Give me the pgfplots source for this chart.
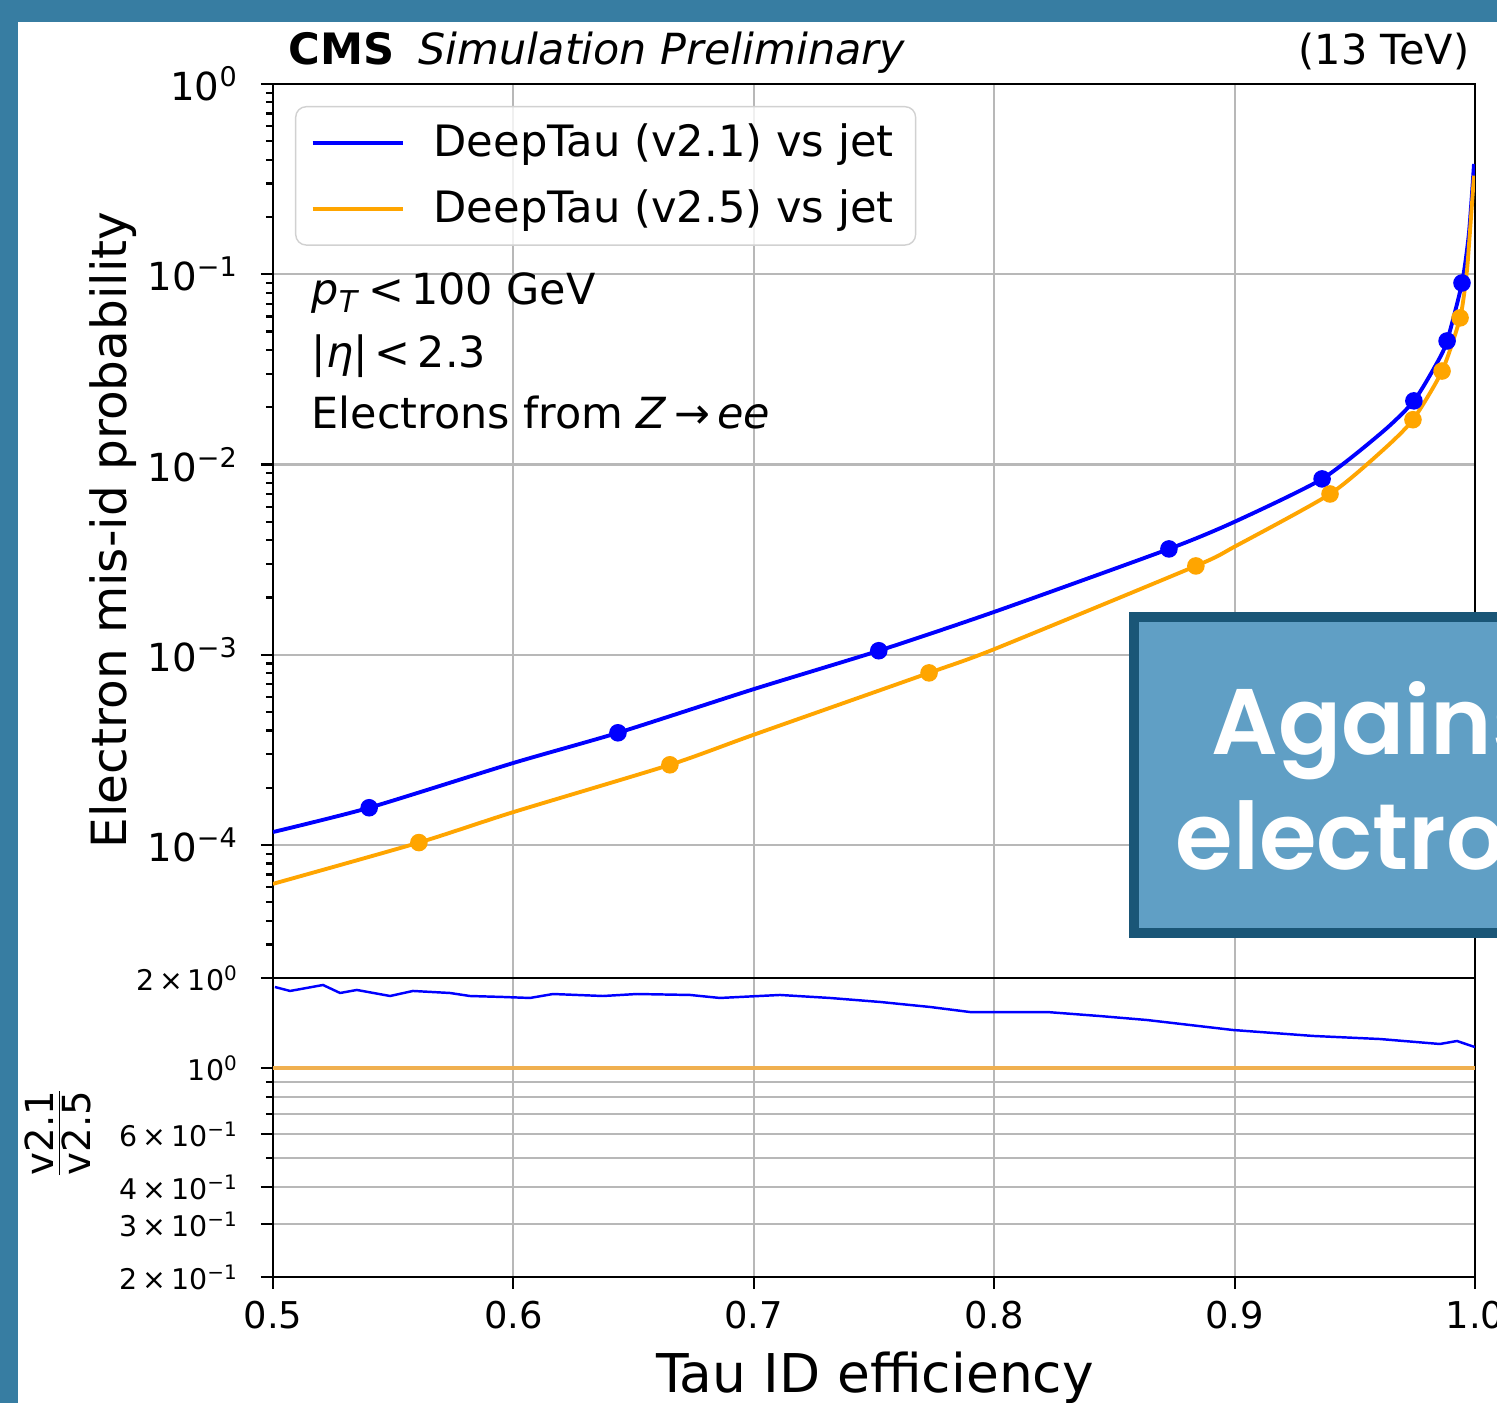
\documentclass[border=0pt]{standalone}
\usepackage{fontspec}
\setmainfont{DejaVu Sans}
\newfontfamily\boxfont{Poppins SemiBold}
\usepackage{pgfplots}
\pgfplotsset{compat=1.18}
\definecolor{frameblue}{HTML}{377DA2}
\definecolor{boxdark}{HTML}{1A5677}
\definecolor{boxfill}{HTML}{609FC5}
\definecolor{vblue}{HTML}{0000FF}
\definecolor{vorange}{HTML}{FFA500}
\definecolor{rorange}{HTML}{F0B050}
\definecolor{gridc}{HTML}{B8B8B8}

\begin{document}
\begin{tikzpicture}
\useasboundingbox (0,0) rectangle (149.7mm,-140.3mm);
\fill[frameblue] (0,0) rectangle (149.7mm,-140.3mm);
\fill[white] (1.8mm,-2.2mm) rectangle (149.7mm,-140.3mm);
\begin{scope}
\clip (1.8mm,-2.2mm) rectangle (149.7mm,-140.3mm);

% main panel: mis-id probability
\begin{axis}[
    at={(27.3mm,-97.8mm)}, anchor=south west,
    scale only axis, width=120.2mm, height=89.4mm,
    xmin=0.5, xmax=1, ymode=log, ymin=2e-5, ymax=1,
    xtick={0.5,0.6,0.7,0.8,0.9,1.0}, xticklabels={},
    major x tick style={draw=none},
    ytick={1e-4,1e-3,1e-2,1e-1,1},
    yticklabels={10\textsuperscript{−4},10\textsuperscript{−3},10\textsuperscript{−2},10\textsuperscript{−1},10\textsuperscript{0}},
    minor ytick={2e-5,3e-5,4e-5,5e-5,6e-5,7e-5,8e-5,9e-5,
                 2e-4,3e-4,4e-4,5e-4,6e-4,7e-4,8e-4,9e-4,
                 2e-3,3e-3,4e-3,5e-3,6e-3,7e-3,8e-3,9e-3,
                 2e-2,3e-2,4e-2,5e-2,6e-2,7e-2,8e-2,9e-2,
                 2e-1,3e-1,4e-1,5e-1,6e-1,7e-1,8e-1,9e-1},
    ytick pos=left, tick align=outside,
    major tick length=1.2mm, minor tick length=0.7mm,
    every tick/.style={black, line width=0.6pt},
    yticklabel style={font=\fontsize{11}{13}\selectfont, xshift=-1.0mm},
    axis line style={line width=0.7pt},
    xmajorgrids, ymajorgrids,
    grid style={gridc, line width=0.6pt},
    legend style={at={(0.0183,0.9754)}, anchor=north west,
        draw=black!18, rounded corners=3pt, fill=white, fill opacity=0.8,
        text opacity=1, font=\fontsize{12.3}{14}\selectfont,
        inner xsep=1.5mm, inner ysep=1.0mm, row sep=1.4mm,
        /tikz/every odd column/.append style={column sep=2.2mm}},
    legend cell align=left,
    legend image code/.code={\draw[#1, line width=1.1pt] (0mm,0mm) -- (9mm,0mm);},
]
\addplot[vblue, line width=1.1pt, smooth, tension=0.4] coordinates {
  (0.500,1.17e-4) (0.540,1.57e-4) (0.600,2.70e-4) (0.6435,3.89e-4)
  (0.700,6.60e-4) (0.752,1.05e-3) (0.800,1.68e-3) (0.8727,3.60e-3)
  (0.900,5.00e-3) (0.9364,8.40e-3) (0.9617,1.49e-2) (0.9746,2.16e-2)
  (0.9842,3.42e-2) (0.9884,4.46e-2) (0.9946,9.00e-2) (0.9975,0.165)
  (0.9996,0.38)
};
\addlegendentry{DeepTau (v2.1) vs jet}
\addplot[vorange, line width=1.1pt, smooth, tension=0.4] coordinates {
  (0.500,6.25e-5) (0.5607,1.03e-4) (0.600,1.49e-4) (0.6651,2.64e-4)
  (0.700,3.80e-4) (0.7729,8.03e-4) (0.800,1.07e-3) (0.8839,2.93e-3)
  (0.900,3.70e-3) (0.9397,7.00e-3) (0.9617,1.19e-2) (0.9742,1.72e-2)
  (0.9863,3.10e-2) (0.9938,5.90e-2) (0.9965,0.10) (0.9978,0.16)
  (0.9996,0.33)
};
\addlegendentry{DeepTau (v2.5) vs jet}
\addplot[only marks, mark=*, mark size=2.3pt, vblue, forget plot] coordinates {
  (0.540,1.57e-4) (0.6435,3.89e-4) (0.752,1.05e-3) (0.8727,3.60e-3)
  (0.9364,8.40e-3) (0.9746,2.16e-2) (0.9884,4.46e-2) (0.9946,9.00e-2)
};
\addplot[only marks, mark=*, mark size=2.3pt, vorange, forget plot] coordinates {
  (0.5607,1.03e-4) (0.6651,2.64e-4) (0.7729,8.03e-4) (0.8839,2.93e-3)
  (0.9397,7.00e-3) (0.9742,1.72e-2) (0.9863,3.10e-2) (0.9938,5.90e-2)
};
\end{axis}

% ratio panel
\begin{axis}[
    at={(27.3mm,-127.7mm)}, anchor=south west,
    scale only axis, width=120.2mm, height=29.9mm,
    xmin=0.5, xmax=1, ymode=log, ymin=0.2, ymax=2,
    xtick={0.5,0.6,0.7,0.8,0.9,1.0},
    xticklabels={0.5,0.6,0.7,0.8,0.9,1.0},
    ytick={0.2,0.3,0.4,0.6,1,2},
    yticklabels={2\,×\,10\textsuperscript{−1},3\,×\,10\textsuperscript{−1},4\,×\,10\textsuperscript{−1},6\,×\,10\textsuperscript{−1},10\textsuperscript{0},2\,×\,10\textsuperscript{0}},
    minor ytick={0.5,0.7,0.8,0.9},
    xtick pos=bottom, ytick pos=left, tick align=outside,
    major tick length=1.2mm, minor tick length=0.7mm,
    every tick/.style={black, line width=0.6pt},
    yticklabel style={font=\fontsize{8.1}{10}\selectfont, xshift=-1.0mm},
    xticklabel style={font=\fontsize{10.5}{12}\selectfont},
    axis line style={line width=0.7pt},
    xmajorgrids, ymajorgrids, yminorgrids,
    grid style={gridc, line width=0.6pt},
]
\addplot[vblue, line width=0.7pt] coordinates {
  (0.5008,1.866) (0.5071,1.810) (0.5208,1.895) (0.5279,1.782) (0.5349,1.824)
  (0.5487,1.741) (0.5582,1.810) (0.5736,1.782) (0.5819,1.741) (0.5957,1.728)
  (0.6069,1.715) (0.6165,1.768) (0.6373,1.741) (0.6514,1.768) (0.6735,1.755)
  (0.6859,1.715) (0.7109,1.755) (0.7317,1.715) (0.7525,1.663) (0.7733,1.600)
  (0.7899,1.539) (0.8078,1.539) (0.8220,1.539) (0.8440,1.492) (0.8636,1.447)
  (0.8993,1.340) (0.9326,1.280) (0.9605,1.250) (0.9854,1.203) (0.9925,1.231)
  (1.0000,1.175)
};
\addplot[rorange, line width=1.1pt] coordinates {(0.5,1) (1.0,1)};
\end{axis}

% labels and annotations
\node[rotate=90, font=\fontsize{13.8}{16}\selectfont] at (11.3mm,-53mm) {Electron mis-id probability};
\node[anchor=base, font=\fontsize{15.2}{18}\selectfont] at (87.5mm,-139.2mm) {Tau ID efficiency};
\node[rotate=90] at (5.8mm,-113.3mm) {\fontsize{11}{12}\selectfont $\frac{\mbox{\fontsize{11}{12}\selectfont v2.1}}{\mbox{\fontsize{11}{12}\selectfont v2.5}}$};
\node[anchor=base west, inner sep=0pt, font=\fontsize{12.3}{14}\selectfont\bfseries] at (28.8mm,-6.5mm) {CMS};
\node[anchor=base west, inner sep=0pt, font=\fontsize{12.2}{14}\selectfont\itshape] at (41.8mm,-6.5mm) {Simulation Preliminary};
\node[anchor=base east, inner sep=0pt, font=\fontsize{11.8}{14}\selectfont] at (147.0mm,-6.5mm) {(13 TeV)};
\node[anchor=base west, inner sep=0pt, font=\fontsize{12.2}{14}\selectfont] at (31.1mm,-30.5mm) {\textit{p}\textsubscript{\textit{T}}\,<\,100 GeV};
\node[anchor=base west, inner sep=0pt, font=\fontsize{12.2}{14}\selectfont] at (31.1mm,-36.8mm) {|\textit{η}|\,<\,2.3};
\node[anchor=base west, inner sep=0pt, font=\fontsize{12.2}{14}\selectfont] at (31.1mm,-42.9mm) {Electrons from \textit{Z}\,→\,\textit{ee}};

% overlay box
\fill[boxdark] (112.9mm,-61.2mm) rectangle (152mm,-93.8mm);
\fill[boxfill] (113.9mm,-62.2mm) rectangle (152mm,-92.8mm);
\node[anchor=base west, inner sep=0pt, text=white, font=\fontsize{26.5}{30}\boxfont] at (121.1mm,-75.5mm) {Against};
\node[anchor=base west, inner sep=0pt, text=white, font=\fontsize{26.5}{30}\boxfont] at (117.5mm,-87.0mm) {electrons};
\end{scope}
\end{tikzpicture}
\end{document}
